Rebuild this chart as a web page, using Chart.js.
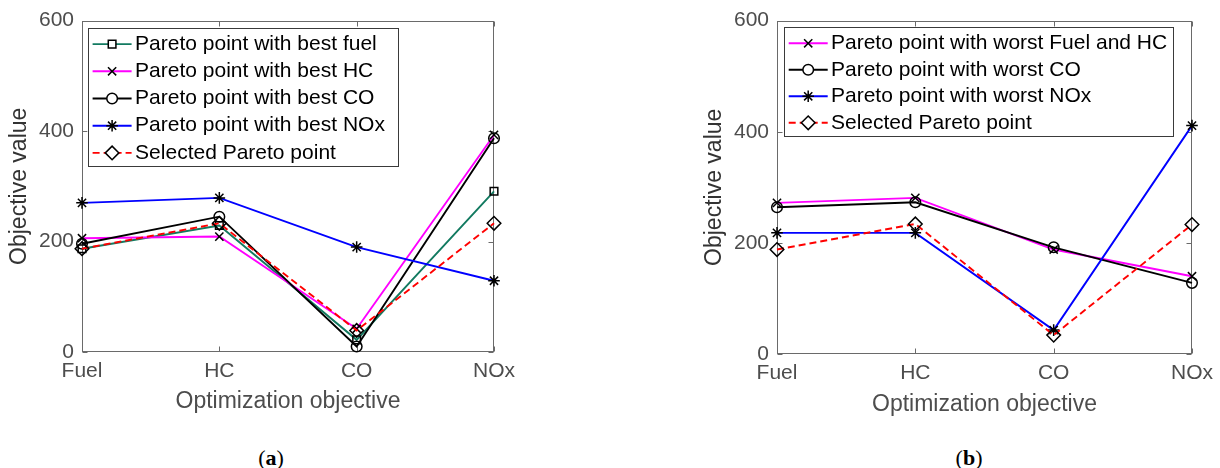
<!DOCTYPE html>
<html lang="en">
<head>
<meta charset="utf-8">
<title>Objective values of Pareto points</title>
<script src="https://cdn.jsdelivr.net/npm/chart.js@4.4.1/dist/chart.umd.min.js"></script>
<style>
  body { margin: 0; width: 1220px; height: 468px; background: #fff; position: relative; overflow: hidden; }
  .panel { position: absolute; top: 0; }
  .caption { position: absolute; top: 446px; width: 60px; text-align: center; font-family: "Liberation Serif", serif; font-size: 22px; line-height: 24px; color: #000; }
</style>
</head>
<body>
<canvas id="graficoA" class="panel" width="600" height="430" style="left:0"></canvas>
<canvas id="graficoB" class="panel" width="525" height="430" style="left:695px"></canvas>
<div class="caption" style="left:241px">(<b>a</b>)</div>
<div class="caption" style="left:939px">(<b>b</b>)</div>
<script>
const categories = ['Fuel', 'HC', 'CO', 'NOx'];
const yTicks = [0, 200, 400, 600];

// (a) Pareto points with the best value of each objective
const bestFuel = [187, 229, 22, 291];
const bestHC = [206, 209, 42, 393];
const bestCO = [196, 245, 10, 387];
const bestNOx = [270, 279, 190, 129];
const selectedA = [187, 233, 39, 233];

// (b) Pareto points with the worst value of each objective
const worstFuelHC = [272, 281, 188, 140];
const worstCO = [264, 273, 192, 128];
const worstNOx = [218, 218, 43, 411];
const selectedB = [188, 234, 34, 233];

const FUENTE = '"Liberation Sans", Arial, sans-serif';
Chart.defaults.font.family = FUENTE;

const radios = { rect: 5.4, crossRot: 5.8, circle: 5.3, star: 5.8, rectRot: 6.8 };

function serie(label, data, color, estilo, dash) {
    return {
        label: label,
        data: data,
        borderColor: color,
        borderWidth: 1.9,
        borderDash: dash || [],
        pointStyle: estilo,
        pointRadius: radios[estilo],
        pointBorderColor: '#000',
        pointBackgroundColor: 'rgba(0,0,0,0)',
        pointBorderWidth: 1.5,
        tension: 0,
        fill: false,
        clip: false
    };
}

// Caja de ejes con marcas hacia dentro (arriba, abajo, izquierda y derecha)
const marcoEjes = {
    id: 'marcoEjes',
    beforeDatasetsDraw(chart) {
        const { ctx, chartArea: a, scales: { x, y } } = chart;
        const l = Math.round(a.left) + 0.5, r = Math.round(a.right) - 0.5;
        const t = Math.round(a.top) + 0.5, b = Math.round(a.bottom) - 0.5;
        ctx.save();
        ctx.strokeStyle = '#6a6a6a';
        ctx.lineWidth = 1;
        ctx.strokeRect(l, t, r - l, b - t);
        ctx.beginPath();
        categories.forEach((c, i) => {
            const px = Math.round(x.getPixelForValue(i)) + 0.5;
            ctx.moveTo(px, b); ctx.lineTo(px, b - 5);
            ctx.moveTo(px, t); ctx.lineTo(px, t + 5);
        });
        yTicks.forEach(v => {
            const py = Math.round(y.getPixelForValue(v)) + 0.5;
            ctx.moveTo(l, py); ctx.lineTo(l + 5, py);
            ctx.moveTo(r, py); ctx.lineTo(r - 5, py);
        });
        ctx.stroke();
        ctx.restore();
    }
};

// Leyenda con recuadro: muestra de línea + marcador de cada serie
const leyendaCaja = {
    id: 'leyendaCaja',
    afterDatasetsDraw(chart, args, opts) {
        const { ctx, chartArea: a } = chart;
        const sets = chart.data.datasets;
        ctx.save();
        ctx.font = '21px ' + FUENTE;
        const anchoTexto = Math.max(...sets.map(d => ctx.measureText(d.label).width));
        const x0 = a.left + opts.dx;
        const y0 = opts.top;
        const ancho = opts.textoX + anchoTexto + opts.margen;
        ctx.fillStyle = '#fff';
        ctx.fillRect(x0, y0, ancho, opts.alto);
        ctx.strokeStyle = '#3a3a3a';
        ctx.lineWidth = 1;
        ctx.strokeRect(Math.round(x0) + 0.5, Math.round(y0) + 0.5, Math.round(ancho), Math.round(opts.alto));

        sets.forEach((d, i) => {
            const fy = y0 + opts.primera + i * opts.paso;
            ctx.strokeStyle = d.borderColor;
            ctx.lineWidth = d.borderWidth;
            ctx.setLineDash(d.borderDash);
            ctx.beginPath();
            ctx.moveTo(x0 + 5, fy);
            ctx.lineTo(x0 + 44, fy);
            ctx.stroke();
            ctx.setLineDash([]);
            if (Chart.helpers && Chart.helpers.drawPoint) {
                ctx.strokeStyle = d.pointBorderColor;
                ctx.fillStyle = '#fff';
                ctx.lineWidth = d.pointBorderWidth;
                Chart.helpers.drawPoint(ctx, {
                    pointStyle: d.pointStyle,
                    radius: d.pointRadius,
                    borderWidth: d.pointBorderWidth,
                    rotation: 0
                }, x0 + 24.5, fy);
            }
            ctx.fillStyle = '#000';
            ctx.textBaseline = 'middle';
            ctx.textAlign = 'left';
            ctx.fillText(d.label, x0 + opts.textoX, fy);
        });
        ctx.restore();
    }
};

function crearGrafico(canvasId, datasets, geo) {
    const ctx = document.getElementById(canvasId).getContext('2d');
    return new Chart(ctx, {
        type: 'line',
        data: {
            labels: categories,
            datasets: datasets.map((d, i) => Object.assign(d, { order: datasets.length - i }))
        },
        options: {
            responsive: false,
            animation: false,
            events: [],
            layout: { padding: { left: 0, top: 19, right: geo.derecha, bottom: 0 } },
            plugins: {
                legend: { display: false },
                tooltip: { enabled: false },
                leyendaCaja: geo.leyenda
            },
            scales: {
                x: {
                    type: 'category',
                    offset: false,
                    grid: { display: false, drawTicks: false },
                    border: { display: false },
                    ticks: { color: '#4d4d4d', font: { size: 21 }, padding: 7, maxRotation: 0, autoSkip: false },
                    title: {
                        display: true,
                        text: 'Optimization objective',
                        color: '#4d4d4d',
                        font: { size: 23 },
                        padding: { top: 0, bottom: geo.tituloX }
                    },
                    afterFit: s => { s.height = geo.altoX; }
                },
                y: {
                    min: 0,
                    max: 600,
                    grid: { display: false, drawTicks: false },
                    border: { display: false },
                    afterBuildTicks: s => { s.ticks = yTicks.map(v => ({ value: v })); },
                    ticks: { color: '#4d4d4d', font: { size: 21 }, padding: 8 },
                    title: {
                        display: true,
                        text: 'Objective value',
                        color: '#333',
                        font: { size: 23 },
                        padding: { top: 6, bottom: 6 }
                    },
                    afterFit: s => { s.width = 82; }
                }
            }
        },
        plugins: [marcoEjes, leyendaCaja]
    });
}

window.addEventListener('load', () => {
    crearGrafico('graficoA', [
        serie('Pareto point with best fuel', bestFuel, '#127a60', 'rect'),
        serie('Pareto point with best HC', bestHC, '#ff00ff', 'crossRot'),
        serie('Pareto point with best CO', bestCO, '#000000', 'circle'),
        serie('Pareto point with best NOx', bestNOx, '#0000ff', 'star'),
        serie('Selected Pareto point', selectedA, '#ff0000', 'rectRot', [7, 4])
    ], {
        derecha: 106,
        altoX: 78,
        tituloX: 14.5,
        leyenda: { dx: 5.6, top: 28.3, alto: 138.4, primera: 15.8, paso: 27.2, textoX: 47.5, margen: 12.5 }
    });

    crearGrafico('graficoB', [
        serie('Pareto point with worst Fuel and HC', worstFuelHC, '#ff00ff', 'crossRot'),
        serie('Pareto point with worst CO', worstCO, '#000000', 'circle'),
        serie('Pareto point with worst NOx', worstNOx, '#0000ff', 'star'),
        serie('Selected Pareto point', selectedB, '#ff0000', 'rectRot', [7, 4])
    ], {
        derecha: 27.5,
        altoX: 76,
        tituloX: 11.5,
        leyenda: { dx: 6.7, top: 27.3, alto: 109.4, primera: 16, paso: 26.5, textoX: 47.3, margen: 6 }
    });
});
</script>
</body>
</html>
